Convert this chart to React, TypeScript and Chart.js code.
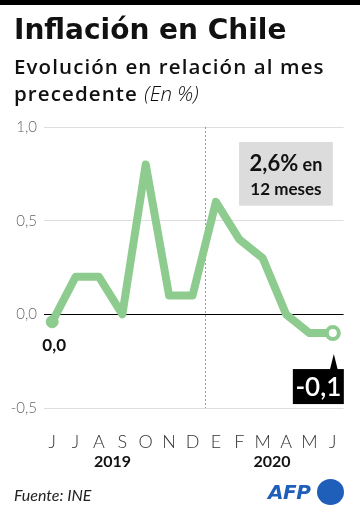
import React, { useEffect, useRef } from "react";
import { Chart, registerables } from "chart.js";

Chart.register(...registerables);

const months = ["J", "J", "A", "S", "O", "N", "D", "E", "F", "M", "A", "M", "J"];
const values = [-0.04, 0.2, 0.2, 0.0, 0.8, 0.1, 0.1, 0.6, 0.4, 0.3, 0.0, -0.1, -0.1];
const yTicks = [-0.5, 0, 0.5, 1.0];
const years = ["2019", "2020"];
const yearCenters = [2.58, 9.4];
const firstLabel = "0,0";
const lastLabel = "-0,1";
const annualValue = "2,6%";
const annualText = " en";
const annualText2 = "12 meses";

const GREEN = "#8ecb8e";
const FONT = "Lato, 'Open Sans', sans-serif";
const TITLE = "'DejaVu Sans', 'Open Sans', sans-serif";
const SUB = "'Open Sans', Lato, sans-serif";

const overlay = {
  id: "overlay",
  beforeDatasetsDraw(chart: any) {
    const { ctx, chartArea, scales } = chart;
    const x = scales.x;
    const y = scales.y;
    ctx.save();
    const sx = Math.round(x.getPixelForValue(6.55)) + 0.5;
    ctx.strokeStyle = "#9a9a9a";
    ctx.lineWidth = 1;
    ctx.setLineDash([2, 2]);
    ctx.beginPath();
    ctx.moveTo(sx, chartArea.top);
    ctx.lineTo(sx, chartArea.bottom);
    ctx.stroke();
    ctx.setLineDash([]);
    const bx0 = x.getPixelForValue(7.99);
    const bx1 = x.getPixelForValue(12.0);
    const by0 = y.getPixelForValue(0.92);
    const by1 = y.getPixelForValue(0.58);
    ctx.fillStyle = "#dcdcdc";
    ctx.fillRect(bx0, by0, bx1 - bx0, by1 - by0);
    const cx = (bx0 + bx1) / 2;
    ctx.fillStyle = "#111";
    ctx.textBaseline = "alphabetic";
    ctx.font = `bold 22px ${FONT}`;
    const w1 = ctx.measureText(annualValue).width;
    ctx.font = `bold 18px ${FONT}`;
    const w2 = ctx.measureText(annualText).width;
    const start = cx - (w1 + w2) / 2;
    ctx.textAlign = "left";
    ctx.font = `bold 22px ${FONT}`;
    ctx.fillText(annualValue, start, by0 + 29);
    ctx.font = `bold 18px ${FONT}`;
    ctx.fillText(annualText, start + w1, by0 + 29);
    ctx.textAlign = "center";
    ctx.font = `bold 17px ${FONT}`;
    ctx.fillText(annualText2, cx, by0 + 53);
    ctx.restore();
  },
  afterDraw(chart: any) {
    const { ctx, scales } = chart;
    const x = scales.x;
    const y = scales.y;
    ctx.save();
    const px0 = x.getPixelForValue(0);
    const py0 = y.getPixelForValue(values[0]);
    ctx.fillStyle = "#111";
    ctx.font = `bold 17px ${FONT}`;
    ctx.textAlign = "center";
    ctx.textBaseline = "middle";
    ctx.fillText(firstLabel, px0 + 2, py0 + 24);
    const n = values.length - 1;
    const pxn = x.getPixelForValue(n);
    const pyn = y.getPixelForValue(values[n]);
    ctx.fillStyle = "#000";
    const tipY = pyn + 21;
    const boxTop = pyn + 36;
    ctx.beginPath();
    ctx.moveTo(pxn + 1, tipY);
    ctx.lineTo(pxn - 3, boxTop + 1);
    ctx.lineTo(pxn + 5, boxTop + 1);
    ctx.closePath();
    ctx.fill();
    ctx.fillRect(pxn - 40, boxTop, 51, 35);
    ctx.fillStyle = "#fff";
    ctx.font = `600 26px ${FONT}`;
    ctx.fillText(lastLabel, pxn - 14.5, boxTop + 18.5);
    ctx.fillStyle = "#111";
    ctx.font = `bold 16px ${FONT}`;
    ctx.textBaseline = "alphabetic";
    years.forEach((yr, i) => {
      ctx.fillText(yr, x.getPixelForValue(yearCenters[i]), 467);
    });
    ctx.restore();
  },
};

function LineChart() {
  const ref = useRef<HTMLCanvasElement>(null);
  useEffect(() => {
    if (!ref.current) return;
    const n = values.length - 1;
    const chart = new Chart(ref.current, {
      type: "line",
      data: {
        datasets: [
          {
            data: values.map((v, i) => ({ x: i, y: v })),
            borderColor: GREEN,
            borderWidth: 8,
            borderJoinStyle: "round",
            borderCapStyle: "round",
            tension: 0,
            pointRadius: values.map((_, i) => (i === 0 ? 6 : i === n ? 6 : 0)),
            pointBackgroundColor: values.map((_, i) => (i === n ? "#fff" : GREEN)),
            pointBorderColor: GREEN,
            pointBorderWidth: values.map((_, i) => (i === n ? 4 : 1)),
            pointHoverRadius: 0,
          } as any,
        ],
      },
      options: {
        animation: false,
        responsive: false,
        maintainAspectRatio: false,
        events: [],
        layout: { padding: { top: 127, right: 12, bottom: 0, left: 0 } },
        plugins: { legend: { display: false }, tooltip: { enabled: false } },
        scales: {
          x: {
            type: "linear",
            min: -0.35,
            max: 12.46,
            afterFit: (s: any) => {
              s.height = 104;
            },
            afterBuildTicks: (s: any) => {
              s.ticks = months.map((_, i) => ({ value: i }));
            },
            grid: { display: false, drawTicks: false },
            border: { display: false },
            ticks: {
              autoSkip: false,
              maxRotation: 0,
              padding: 23,
              color: "#333",
              font: { family: FONT, size: 18, weight: "300" as any },
              callback: (v: any) => months[v] ?? "",
            },
          },
          y: {
            min: -0.5,
            max: 1.0,
            afterFit: (s: any) => {
              s.width = 44;
            },
            afterBuildTicks: (s: any) => {
              s.ticks = yTicks.map((v) => ({ value: v }));
            },
            grid: {
              drawTicks: false,
              color: (c: any) => (c.tick && c.tick.value === 0 ? "#000" : "#dedede"),
              lineWidth: 1,
            },
            border: { display: false },
            ticks: {
              padding: 7,
              color: "#666",
              font: { family: FONT, size: 15, weight: "300" as any },
              callback: (v: any) => Number(v).toFixed(1).replace(".", ","),
            },
          },
        },
      },
      plugins: [overlay],
    });
    return () => chart.destroy();
  }, []);
  return <canvas ref={ref} width={360} height={512} style={{ position: "absolute", left: 0, top: 0, width: 360, height: 512 }} />;
}

export default function App() {
  return (
    <div style={{ position: "fixed", left: 0, top: 0, width: 360, height: 512, background: "#fff", overflow: "hidden", fontFamily: FONT }}>
      <div style={{ position: "absolute", left: 0, top: 0, width: 360, height: 5, background: "#000" }} />
      <LineChart />
      <div style={{ position: "absolute", left: 14, top: 10, fontFamily: TITLE, fontSize: 28, fontWeight: 700, color: "#111", lineHeight: "40px", whiteSpace: "nowrap" }}>
        Inflación en Chile
      </div>
      <div style={{ position: "absolute", left: 14, top: 53, fontFamily: SUB, fontSize: 20.5, fontWeight: 600, color: "#111", lineHeight: "27px", whiteSpace: "nowrap", letterSpacing: 1.1 }}>
        Evolución en relación al mes
        <br />
        precedente <span style={{ fontStyle: "italic", fontWeight: 300, letterSpacing: 0 }}>(En %)</span>
      </div>
      <div style={{ position: "absolute", left: 14, top: 485, fontSize: 16, fontStyle: "italic", color: "#222", whiteSpace: "nowrap" }}>
        Fuente: INE
      </div>
      <div style={{ position: "absolute", left: 268, top: 479, fontFamily: "'DejaVu Sans', sans-serif", fontSize: 20, fontWeight: 700, fontStyle: "italic", color: "#1f5fb9", letterSpacing: -0.5, whiteSpace: "nowrap", lineHeight: "26px" }}>
        AFP
      </div>
      <div style={{ position: "absolute", left: 317, top: 479, width: 27, height: 26, borderRadius: "50%", background: "#1f5fb9" }} />
    </div>
  );
}
